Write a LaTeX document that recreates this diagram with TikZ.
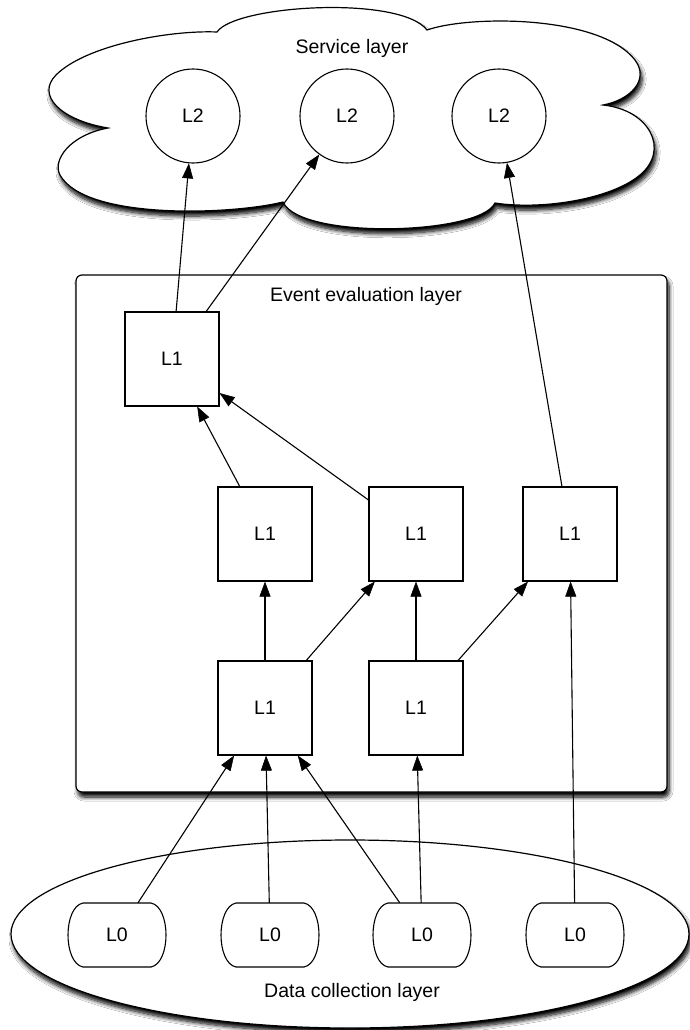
\documentclass[tikz,border=0pt]{standalone}
\usepackage{fontspec}
\setmainfont{Liberation Sans}
\usetikzlibrary{arrows.meta,shadows.blur,calc}
\begin{document}
\begin{tikzpicture}[x=1pt,y=-1pt,
  layer/.style={draw, line width=1.2pt, fill=white,
    blur shadow={shadow xshift=2pt, shadow yshift=-5pt, shadow blur radius=4pt, shadow blur steps=8, shadow opacity=100}},
  txt/.style={font=\fontsize{19.5}{22}\selectfont},
  ltwo/.style={txt, circle, draw, line width=1.1pt, minimum size=94pt, inner sep=0pt},
  lone/.style={txt, rectangle, draw, line width=1.2pt, minimum width=94pt, minimum height=94pt, inner sep=0pt},
  lzero/.style={txt, rectangle, minimum width=94pt, minimum height=64pt, inner sep=0pt},
  lzeroshape/.style={draw, line width=1.1pt},
  arr/.style={-{Triangle[length=15pt,width=11pt,fill=black,line width=0.5pt]}, line width=1.1pt, draw=black, fill opacity=1, draw opacity=1}]
\useasboundingbox (0,0) rectangle (690,1030);
\fill[white] (0,0) rectangle (690,1030);
% Service layer cloud
\draw[layer] (108,128)
  .. controls (60,120) and (36,95) .. (56,75)
  .. controls (86,45) and (170,30) .. (217,32)
  .. controls (235,5) and (400,-5) .. (427,30)
  .. controls (470,15) and (600,15) .. (635,60)
  .. controls (650,80) and (630,100) .. (603,105)
  .. controls (650,110) and (670,150) .. (640,175)
  .. controls (610,200) and (540,210) .. (495,203)
  .. controls (480,235) and (300,240) .. (283,202)
  .. controls (230,215) and (85,220) .. (60,175)
  .. controls (52,160) and (70,135) .. cycle;
% Event evaluation layer
\draw[layer, rounded corners=6pt] (76,275) rectangle (667,792);
% Data collection layer
\draw[layer] (350,934) ellipse [x radius=339, y radius=94];
% titles
\node[txt] (svc) at (352,48) {Service layer};
\node[txt] (evt) at (366,296) {Event evaluation layer};
\node[txt] (dat) at (352,992) {Data collection layer};
% L2
\node[ltwo] (L2a) at (193,116) {L2};
\node[ltwo] (L2b) at (347,116) {L2};
\node[ltwo] (L2c) at (499,116) {L2};
% L1
\node[lone] (L1a) at (172,359) {L1};
\node[lone] (L1b) at (265,534) {L1};
\node[lone] (L1c) at (416,534) {L1};
\node[lone] (L1d) at (570,534) {L1};
\node[lone] (L1e) at (265,708) {L1};
\node[lone] (L1f) at (416,708) {L1};
% L0
\node[lzero] (L0a) at (117,935) {L0};
\node[lzero] (L0b) at (270,935) {L0};
\node[lzero] (L0c) at (422,935) {L0};
\node[lzero] (L0d) at (575,935) {L0};
\foreach \n in {L0a,L0b,L0c,L0d}{
  \draw[lzeroshape] ($(\n.center)+(-34,-32)$) -- ($(\n.center)+(34,-32)$)
    .. controls ($(\n.center)+(54,-28)$) and ($(\n.center)+(54,28)$) .. ($(\n.center)+(34,32)$)
    -- ($(\n.center)+(-34,32)$)
    .. controls ($(\n.center)+(-54,28)$) and ($(\n.center)+(-54,-28)$) .. cycle;
}
% connectors
\draw[arr] (L0a) -- (L1e);
\draw[arr] (L0b) -- (L1e);
\draw[arr] (L0c) -- (L1e);
\draw[arr] (L0c) -- (L1f);
\draw[arr] (L0d) -- (L1d);
\draw[arr] (L1e) -- (L1b);
\draw[arr] (L1e) -- (L1c);
\draw[arr] (L1f) -- (L1c);
\draw[arr] (L1f) -- (L1d);
\draw[arr] (L1b) -- (L1a);
\draw[arr] (L1c) -- (L1a);
\draw[arr] (L1a) -- (L2a);
\draw[arr] (L1a) -- (L2b);
\draw[arr] (L1d) -- (L2c);
\end{tikzpicture}
\end{document}
